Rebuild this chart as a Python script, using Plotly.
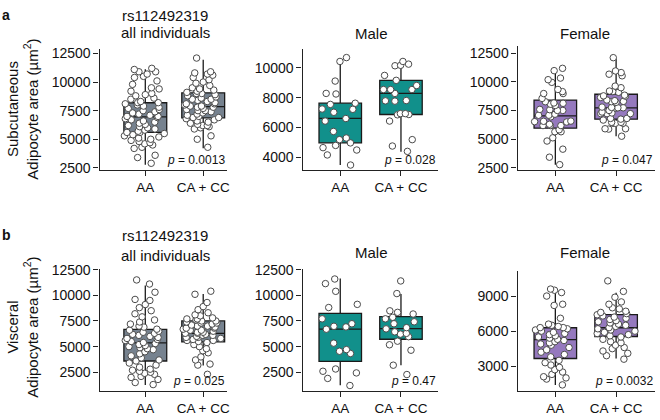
import plotly.graph_objects as go

groups = ["AA", "CA + CC"]

# ---- Subcutaneous, all individuals ----
sc_all_aa = [11200, 11100, 10900, 10900, 10700, 10500, 10400, 10100, 9800, 9500, 9400, 9200,
             9000, 8900, 8800, 8600, 8500, 8300, 8200, 8200, 8100, 8000, 7900, 7800, 7700,
             7600, 7500, 7400, 7300, 7200, 7100, 7000, 7000, 6900, 6800, 6700, 6600, 6500,
             6400, 6300, 6200, 6100, 6000, 5900, 5800, 5700, 5600, 5600, 5500, 5400, 5300,
             5200, 5100, 5000, 4900, 4800, 4700, 4600, 4500, 4300, 4200, 3600, 3400, 2900]
sc_all_cc = [12100, 10900, 10800, 10700, 10600, 10400, 10200, 10000, 9900, 9700, 9500, 9400,
             9300, 9200, 9100, 9000, 9000, 8900, 8800, 8700, 8600, 8500, 8500, 8400, 8300,
             8200, 8100, 8100, 8000, 7900, 7900, 7800, 7800, 7700, 7600, 7500, 7500, 7400,
             7300, 7200, 7100, 7000, 6900, 6900, 6800, 6700, 6600, 6500, 6400, 6300, 6200,
             6200, 6100, 6000, 5900, 5300, 5000, 4300]
sc_all_aa_box = [2780, 5600, 6950, 8190, 11120]   # lower fence, q1, median, q3, upper fence
sc_all_cc_box = [4220, 6870, 7850, 9060, 11960]

# ---- Subcutaneous, male ----
sc_m_aa = [10700, 10440, 9120, 8290, 8250, 7630, 7550, 7220, 7240, 7020, 6600, 6430, 5730,
           5290, 5180, 4960, 4640, 4790, 4480, 4150, 3470]
sc_m_cc = [10440, 10150, 10260, 10180, 9500, 9170, 8820, 8550, 8550, 8550, 8290, 7810, 7790,
           7770, 6870, 6850, 6930, 6930, 6430, 5180, 4750, 4390]
sc_m_aa_box = [3475, 4964, 6606, 7635, 10590]
sc_m_cc_box = [4370, 6870, 8290, 9170, 10390]

# ---- Subcutaneous, female ----
sc_f_aa = [11180, 10980, 10330, 10190, 9960, 9340, 9150, 8980, 8980, 8560, 8270, 7940, 8050,
           8160, 8130, 7600, 7570, 7510, 7510, 7180, 7090, 7090, 6950, 6530, 6500, 6580, 6560,
           6300, 6190, 6190, 6190, 5650, 5820, 5650, 5120, 4840, 4130, 3430, 2780]
sc_f_cc = [12110, 10810, 10950, 10670, 10530, 9630, 9490, 9150, 9200, 9090, 8640, 8780, 8840,
           8750, 8420, 8360, 8300, 8220, 8270, 7740, 7740, 7770, 7800, 7710, 7510, 7370, 7230,
           7230, 7290, 7230, 6810, 6670, 6810, 6750, 6470, 6390, 6470, 6390, 6390, 5880, 5910,
           5910, 5260]
sc_f_aa_box = [2780, 5965, 7035, 8415, 11180]
sc_f_cc_box = [5260, 6750, 7740, 8920, 12020]

# ---- Visceral, all individuals ----
vi_all_aa = [11500, 11100, 10300, 9600, 9500, 9100, 8800, 8500, 8200, 7900, 7600, 7400, 7200,
             7000, 6900, 6700, 6600, 6500, 6400, 6300, 6200, 6100, 6000, 5900, 5800, 5700,
             5600, 5500, 5400, 5300, 5200, 5100, 5000, 4900, 4800, 4700, 4500, 4300, 4100,
             3900, 3700, 3600, 3400, 3200, 3000, 2800, 2700, 2600, 2500, 2400, 2300, 2100,
             2000, 1800, 1500, 1300]
vi_all_cc = [10400, 10100, 9300, 8900, 8600, 8300, 8100, 8000, 7800, 7700, 7700, 7600, 7500,
             7500, 7400, 7300, 7300, 7200, 7100, 7000, 7000, 6900, 6800, 6800, 6700, 6600,
             6600, 6500, 6400, 6400, 6300, 6300, 6200, 6100, 6100, 6000, 5900, 5900, 5800,
             5700, 5600, 5600, 5500, 5400, 5200, 5000, 4800, 4600, 4400, 4000, 3700, 3300,
             3200, 2300]
vi_all_aa_box = [1270, 3600, 5360, 6680, 10960]
vi_all_cc_box = [3160, 5460, 6300, 7500, 10140]

# ---- Visceral, male ----
vi_m_aa = [11590, 11140, 10390, 9120, 8810, 7710, 7230, 6920, 6980, 6700, 5340, 4550, 4710,
           4330, 2820, 2600, 2440, 1900, 1210]
vi_m_cc = [11400, 10170, 8490, 8180, 8340, 7860, 7420, 7710, 7230, 6850, 6730, 6440, 6290,
           6220, 5970, 5530, 4650, 5180, 3190, 2280]
vi_m_aa_box = [1240, 3570, 6700, 8240, 11650]
vi_m_cc_box = [3190, 5720, 6760, 7930, 10130]

# ---- Visceral, female ----
vi_f_aa = [9500, 9600, 9300, 9000, 8200, 8300, 7100, 6600, 6500, 6400, 6300, 6300, 6200, 6100,
           6000, 5900, 5800, 5700, 5600, 5500, 5400, 5300, 5200, 5100, 5000, 4900, 4800, 4600,
           4400, 4200, 4000, 3800, 3500, 3300, 3100, 2900, 2700, 2500, 2300, 2100, 2000, 1900,
           1400]
vi_f_cc = [10300, 9400, 8900, 8500, 8300, 8000, 7900, 7700, 7600, 7500, 7400, 7300, 7200, 7100,
           7000, 6900, 6800, 6700, 6600, 6500, 6400, 6300, 6200, 6100, 6000, 5900, 5800, 5700,
           5600, 5500, 5300, 5100, 5000, 4800, 4600, 4500, 4300, 4100, 3900, 3600]
vi_f_aa_box = [1400, 3660, 5270, 6290, 9690]
vi_f_cc_box = [3660, 5540, 6290, 7420, 9280]

p_values = ["0.0013", "0.028", "0.047", "0.025", "0.47", "0.0032"]
panel_titles = [["rs112492319", "all individuals"], ["Male"], ["Female"],
                ["rs112492319", "all individuals"], ["Male"], ["Female"]]
y_tickvals = [[2500, 5000, 7500, 10000, 12500], [4000, 6000, 8000, 10000],
              [2500, 5000, 7500, 10000, 12500], [2500, 5000, 7500, 10000, 12500],
              [2500, 5000, 7500, 10000, 12500], [3000, 6000, 9000]]

GRAY = "#76828f"
TEAL = "#11908b"
PURPLE = "#9579be"

panels = [
    (sc_all_aa, sc_all_cc, sc_all_aa_box, sc_all_cc_box, GRAY),
    (sc_m_aa, sc_m_cc, sc_m_aa_box, sc_m_cc_box, TEAL),
    (sc_f_aa, sc_f_cc, sc_f_aa_box, sc_f_cc_box, PURPLE),
    (vi_all_aa, vi_all_cc, vi_all_aa_box, vi_all_cc_box, GRAY),
    (vi_m_aa, vi_m_cc, vi_m_aa_box, vi_m_cc_box, TEAL),
    (vi_f_aa, vi_f_cc, vi_f_aa_box, vi_f_cc_box, PURPLE),
]

# layout geometry (pixels)
W, H = 660, 420
geom = [
    dict(px=(100, 228), py=(43, 168), yr=[2330, 12920], xr=[-0.79, 1.41], bw=0.74,
         tx=166, ty=[9, 26.5]),
    dict(px=(304, 440), py=(43, 168), yr=[3150, 11300], xr=[-0.62, 1.61], bw=0.70,
         tx=373, ty=[27]),
    dict(px=(520, 658), py=(40, 168), yr=[2330, 13150], xr=[-0.62, 1.64], bw=0.70,
         tx=588, ty=[27]),
    dict(px=(100, 228), py=(270, 396), yr=[700, 12600], xr=[-0.79, 1.41], bw=0.74,
         tx=166, ty=[236, 256]),
    dict(px=(304, 440), py=(270, 396), yr=[700, 12600], xr=[-0.62, 1.61], bw=0.70,
         tx=373, ty=[253]),
    dict(px=(520, 658), py=(272, 396), yr=[900, 11180], xr=[-0.62, 1.64], bw=0.70,
         tx=588, ty=[253]),
]

FONT = "Liberation Sans, Arial, sans-serif"
fig = go.Figure()
layout = dict(width=W, height=H, margin=dict(l=0, r=0, t=0, b=0),
              paper_bgcolor="white", plot_bgcolor="white", showlegend=False,
              boxmode="overlay", font=dict(family=FONT, color="#111"))
annotations = []

for i, ((aa, cc, aab, ccb, col), g) in enumerate(zip(panels, geom)):
    n = i + 1
    xa = "x" if n == 1 else f"x{n}"
    ya = "y" if n == 1 else f"y{n}"
    for k, (vals, st) in enumerate([(aa, aab), (cc, ccb)]):
        fig.add_trace(go.Box(
            x=[k], lowerfence=[st[0]], q1=[st[1]], median=[st[2]], q3=[st[3]],
            upperfence=[st[4]], boxpoints=False, fillcolor=col, width=g["bw"],
            whiskerwidth=0, line=dict(color="#1a1a1a", width=1.3),
            hoverinfo="skip", xaxis=xa, yaxis=ya))
        fig.add_trace(go.Box(
            x=[k] * len(vals), y=vals, boxpoints="all", jitter=1.0, pointpos=0,
            fillcolor="rgba(0,0,0,0)", line=dict(color="rgba(0,0,0,0)", width=0),
            width=g["bw"], whiskerwidth=0,
            marker=dict(color="white", size=6.5, line=dict(color="#4a4a4a", width=1)),
            hoverinfo="skip", xaxis=xa, yaxis=ya))
    x0, x1 = g["px"]
    yt, yb = g["py"]
    xkey = "xaxis" if n == 1 else f"xaxis{n}"
    ykey = "yaxis" if n == 1 else f"yaxis{n}"
    layout[xkey] = dict(domain=[x0 / W, x1 / W], anchor=ya, type="linear", range=g["xr"],
                        tickvals=[0, 1], ticktext=groups, showgrid=False, zeroline=False,
                        showline=True, linecolor="#222", linewidth=1.3, ticks="outside",
                        ticklen=5, tickcolor="#222", tickwidth=1.3,
                        tickfont=dict(size=13.5, family=FONT, color="#111"))
    layout[ykey] = dict(domain=[1 - yb / H, 1 - yt / H], anchor=xa, range=g["yr"],
                        tickvals=y_tickvals[i], ticktext=[str(v) for v in y_tickvals[i]],
                        showgrid=False, zeroline=False,
                        showline=True, linecolor="#222", linewidth=1.3, ticks="outside",
                        ticklen=5, tickcolor="#222", tickwidth=1.3,
                        tickfont=dict(size=14, family=FONT, color="#111"))
    # p-value
    annotations.append(dict(xref="paper", yref="paper", x=x1 / W, y=1 - (yb - 1) / H,
                            xanchor="right", yanchor="bottom", showarrow=False,
                            text=f"<i>p</i> = {p_values[i]}",
                            font=dict(size=12, family=FONT, color="#111")))
    # title lines
    for line, ty in zip(panel_titles[i], g["ty"]):
        annotations.append(dict(xref="paper", yref="paper", x=g["tx"] / W, y=1 - ty / H,
                                xanchor="center", yanchor="middle", showarrow=False,
                                text=line, font=dict(size=15, family=FONT, color="#111")))

for lab, ly in (("a", 8), ("b", 235)):
    annotations.append(dict(xref="paper", yref="paper", x=6.5 / W, y=1 - ly / H,
                            xanchor="center", yanchor="middle", showarrow=False,
                            text=f"<b>{lab}</b>",
                            font=dict(size=14, family=FONT, color="#111")))
annotations.append(dict(xref="paper", yref="paper", x=23 / W, y=1 - 105 / H,
                        xanchor="center", yanchor="middle", showarrow=False, textangle=-90,
                        text="Subcutaneous<br>Adipocyte area (µm<sup>2</sup>)",
                        font=dict(size=15, family=FONT, color="#111")))
annotations.append(dict(xref="paper", yref="paper", x=23 / W, y=1 - 330 / H,
                        xanchor="center", yanchor="middle", showarrow=False, textangle=-90,
                        text="Visceral<br>Adipocyte area (µm<sup>2</sup>)",
                        font=dict(size=15, family=FONT, color="#111")))
layout["annotations"] = annotations
fig.update_layout(**layout)
fig.write_html("out.html", config={"displayModeBar": False},
               post_script="document.body.style.margin='0';document.body.style.overflow='hidden';")
